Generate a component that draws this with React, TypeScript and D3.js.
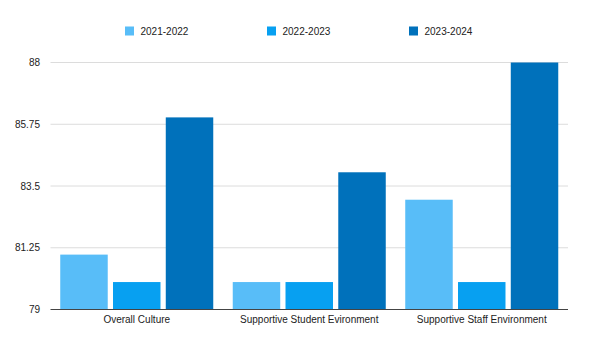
import React from "react";
import * as d3 from "d3";

const categories = ["Overall Culture", "Supportive Student Evironment", "Supportive Staff Environment"];
const seriesNames = ["2021-2022", "2022-2023", "2023-2024"];
const s2122 = [81, 80, 83];
const s2223 = [80, 80, 80];
const s2324 = [86, 84, 88];
const yTicks = [79, 81.25, 83.5, 85.75, 88];
const colors = ["#58bdf8", "#07a0f1", "#0071bb"];

export default function App() {
  const W = 602, H = 355;
  const left = 50.5, right = 568, top = 62.5, bottom = 309.5;
  const series = [s2122, s2223, s2324];
  const x0 = d3.scaleBand<string>().domain(categories).range([left, right]).paddingInner(0.113).paddingOuter(0.0565);
  const x1 = d3.scaleBand<string>().domain(seriesNames).range([0, x0.bandwidth()]).paddingInner(0.1);
  const y = d3.scaleLinear().domain([79, 88]).range([bottom, top]);
  const legendX = [125, 267, 409];
  const font = "Liberation Sans, Arial, Helvetica, sans-serif";
  return (
    <svg width={W} height={H} style={{ position: "absolute", left: 0, top: 0, background: "#fff" }} fontFamily={font}>
      {yTicks.map((t) => (
        <g key={t}>
          {t !== 79 && <line x1={left} x2={right} y1={y(t)} y2={y(t)} stroke="#dcdcdc" strokeWidth={1} />}
          <text x={40} y={y(t)} dy="0.35em" textAnchor="end" fontSize={10} fill="#222">{t}</text>
        </g>
      ))}
      {categories.map((c, i) => (
        <g key={c}>
          {series.map((s, j) => (
            <rect key={j} x={(x0(c) as number) + (x1(seriesNames[j]) as number)} y={y(s[i])}
              width={x1.bandwidth()} height={bottom - y(s[i])} fill={colors[j]} />
          ))}
          <text x={(x0(c) as number) + x0.bandwidth() / 2} y={323} textAnchor="middle" fontSize={10} fill="#222">{c}</text>
        </g>
      ))}
      <line x1={left} x2={right} y1={bottom} y2={bottom} stroke="#444" strokeWidth={1.2} />
      {seriesNames.map((n, j) => (
        <g key={n}>
          <rect x={legendX[j]} y={26.5} width={9} height={9} fill={colors[j]} />
          <text x={legendX[j] + 15.5} y={31} dy="0.35em" fontSize={10} fill="#222">{n}</text>
        </g>
      ))}
    </svg>
  );
}
